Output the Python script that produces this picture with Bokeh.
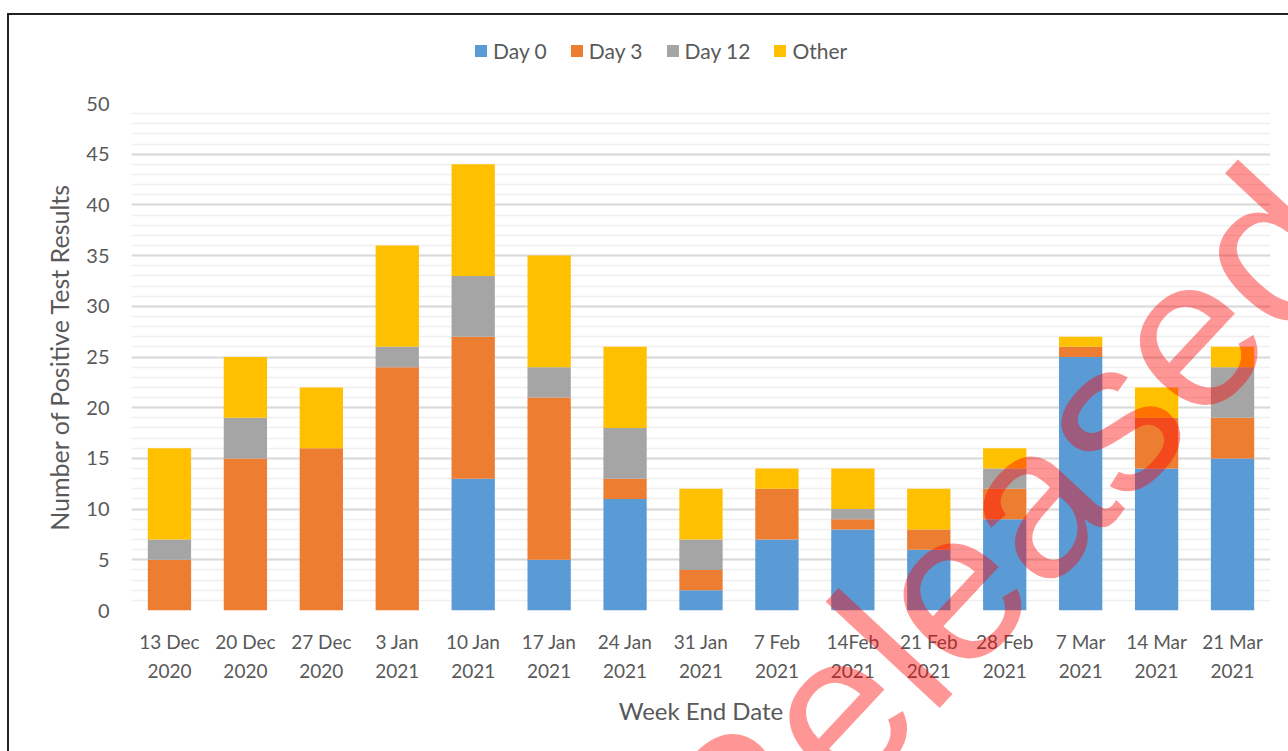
from bokeh.plotting import figure
from bokeh.layouts import column
from bokeh.models import (Range1d, FactorRange, Legend, LegendItem, SingleIntervalTicker, Label,
                          CategoricalAxis, CustomJSTickFormatter)
from bokeh.embed import file_html
from bokeh.resources import INLINE

weeks = ["13 Dec 2020", "20 Dec 2020", "27 Dec 2020", "3 Jan 2021", "10 Jan 2021",
         "17 Jan 2021", "24 Jan 2021", "31 Jan 2021", "7 Feb 2021", "14Feb 2021",
         "21 Feb 2021", "28 Feb 2021", "7 Mar 2021", "14 Mar 2021", "21 Mar 2021"]
week_days = ["13 Dec", "20 Dec", "27 Dec", "3 Jan", "10 Jan", "17 Jan", "24 Jan", "31 Jan",
             "7 Feb", "14Feb", "21 Feb", "28 Feb", "7 Mar", "14 Mar", "21 Mar"]
week_years = ["2020", "2020", "2020", "2021", "2021", "2021", "2021", "2021",
              "2021", "2021", "2021", "2021", "2021", "2021", "2021"]
day0 = [0, 0, 0, 0, 13, 5, 11, 2, 7, 8, 6, 9, 25, 14, 15]
day3 = [5, 15, 16, 24, 14, 16, 2, 2, 5, 1, 2, 3, 1, 5, 4]
day12 = [2, 4, 0, 2, 6, 3, 5, 3, 0, 1, 0, 2, 0, 0, 5]
other = [9, 6, 6, 10, 11, 11, 8, 5, 2, 4, 4, 2, 1, 3, 2]
series = ["Day 0", "Day 3", "Day 12", "Other"]
colors = ["#5B9BD5", "#ED7D31", "#A5A5A5", "#FFC000"]

source = dict(week=weeks, d0=day0, d3=day3, d12=day12, oth=other)

FONT = "Lato"
TXT = "#595959"
W, H = 1288, 751
FL, FR = 131, 1270  # plot frame left / right on the page

p = figure(width=W, height=H, x_range=FactorRange(*weeks), y_range=Range1d(0, 50),
           output_backend="svg", toolbar_location=None,
           min_border_left=FL, min_border_right=W - FR, min_border_top=103, min_border_bottom=141)
p.border_fill_color = None
p.outline_line_color = None
p.styles = {"box-shadow": "inset 0 13px 0 0 #ffffff, inset 7px 0 0 0 #ffffff, "
                          "inset 9px 0 0 0 #222222, inset 0 15px 0 0 #222222"}

rs = p.vbar_stack(["d0", "d3", "d12", "oth"], x="week", width=0.57, color=colors,
                  line_color=None, source=source)

p.xgrid.grid_line_color = None
p.yaxis.ticker = SingleIntervalTicker(interval=5, num_minor_ticks=5)
p.ygrid.grid_line_color = "#D9D9D9"
p.ygrid.grid_line_width = 2
p.ygrid.minor_grid_line_color = "#EFEFEF"
p.ygrid.minor_grid_line_width = 1.5

LOOKUP = "const i = factors.indexOf(tick); return i >= 0 ? names[i] : tick;"

# second category axis carries the year line of each tick label
year_axis = CategoricalAxis()
p.add_layout(year_axis, "below")

for ax in (p.xaxis[0], year_axis, p.yaxis[0]):
    ax.axis_line_color = None
    ax.major_tick_line_color = None
    ax.minor_tick_line_color = None
    ax.major_label_text_font = FONT
    ax.major_label_text_color = TXT
    ax.major_label_text_font_size = "19px"
    ax.axis_label_text_font = FONT
    ax.axis_label_text_color = TXT
    ax.axis_label_text_font_style = "normal"

xa = p.xaxis[0]
xa.formatter = CustomJSTickFormatter(args=dict(factors=weeks, names=week_days), code=LOOKUP)
xa.major_label_standoff = 13
year_axis.formatter = CustomJSTickFormatter(args=dict(factors=weeks, names=week_years), code=LOOKUP)
year_axis.major_label_standoff = 2
year_axis.axis_label = "Week End Date"
year_axis.axis_label_text_font_size = "24px"
year_axis.axis_label_standoff = 15

ya = p.yaxis[0]
ya.major_label_text_font_size = "20px"
ya.axis_label = "Number of Positive Test Results"
ya.axis_label_text_font_size = "25px"
ya.major_label_standoff = 16
ya.axis_label_standoff = 9

# overlay figure (page coordinates): legend and the red "Released" stamp
p2 = figure(width=W, height=H, x_range=Range1d(0, W), y_range=Range1d(0, H),
            output_backend="svg", toolbar_location=None, min_border=0)
p2.axis.visible = False
p2.grid.visible = False
p2.background_fill_color = None
p2.border_fill_color = None
p2.outline_line_color = None

# off-screen swatch renderers, only used to give the legend its colour keys
swatches = [p2.vbar(x=[-500], top=[-500], bottom=[-501], width=1, color=c, line_color=None)
            for c in colors]
legend = Legend(items=[LegendItem(label=s, renderers=[r]) for s, r in zip(series, swatches)],
                orientation="horizontal", location=(473, 688))
legend.glyph_width = 15
legend.glyph_height = 15
legend.label_standoff = 5
legend.spacing = 22
legend.padding = 0
legend.margin = 0
legend.border_line_color = None
legend.background_fill_color = None
legend.label_text_font = FONT
legend.label_text_font_size = "21px"
legend.label_text_color = TXT
p2.add_layout(legend)

wm = Label(x=997, y=H - 536, text="Released", angle=47, angle_units="deg",
           text_font="Liberation Sans", text_font_size="215px", text_color="#FF0000",
           text_alpha=0.41, text_align="center", text_baseline="alphabetic")
p2.add_layout(wm)

overlay = column(p2, width=W, height=H)
overlay.styles = {"position": "absolute", "top": "0px", "left": "0px", "pointer-events": "none"}

open("out.html", "w").write(file_html(column(p, overlay), INLINE))
